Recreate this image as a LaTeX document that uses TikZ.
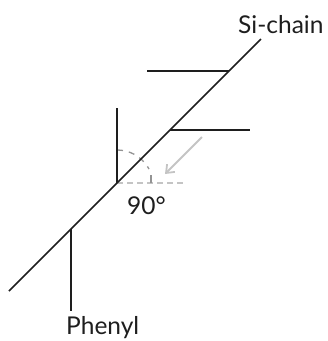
\documentclass[tikz,border=0pt]{standalone}
\usepackage{fontspec}
\setmainfont{Lato}
\usetikzlibrary{arrows.meta}
\definecolor{ink}{HTML}{1E1E1E}
\definecolor{guide}{HTML}{C4C4C4}
\tikzset{
  chain/.style={draw=ink,line width=1.6pt},
  branch/.style={draw=ink,line width=2.2pt},
  guideline/.style={draw=guide,line width=1.6pt,dash pattern=on 6pt off 4pt},
  anglemark/.style={draw=guide!75!black,line width=1.3pt,dash pattern=on 6pt off 6pt},
  pointer/.style={draw=guide,line width=1.8pt,-{Straight Barb[length=7pt,width=11pt]}},
  lbl/.style={inner sep=0pt,anchor=base west,text=ink,font=\fontsize{24.5}{28}\selectfont}
}
\begin{document}
\begin{tikzpicture}[x=1pt,y=-1pt]
\useasboundingbox (0,0) rectangle (328,341);
\coordinate (start) at (9,291);
\coordinate (end) at (261,39);
\coordinate (j1) at (71,229);
\coordinate (j2) at (117,183);
\coordinate (j3) at (170,130);
\coordinate (j4) at (229,71);
\coordinate (b1) at (71,311);
\coordinate (b2) at (117,108);
\coordinate (b3) at (250,130);
\coordinate (b4) at (147,71);
\coordinate (g1) at (186,183);
\coordinate (a1) at (202,137);
\coordinate (a2) at (165,174);
\coordinate (m1) at (117,150);
\coordinate (m2) at (149,169);
\coordinate (t1) at (151,175);
\coordinate (t2) at (151,183);
\draw[guideline] (j2) -- (g1);
\draw[anglemark] (m1) .. controls (128,150) and (141,155) .. (m2);
\draw[anglemark,solid] (t1) -- (t2);
\draw[pointer] (a1) -- (a2);
\draw[chain] (start) -- (end);
\draw[branch] (j1) -- (b1);
\draw[branch] (j2) -- (b2);
\draw[branch] (j3) -- (b3);
\draw[branch] (j4) -- (b4);
\node[lbl] (si) at (238,33) {Si-chain};
\node[lbl] (ph) at (66,334.5) {Phenyl};
\node[lbl] (deg) at (127,214) {90°};
\end{tikzpicture}
\end{document}
